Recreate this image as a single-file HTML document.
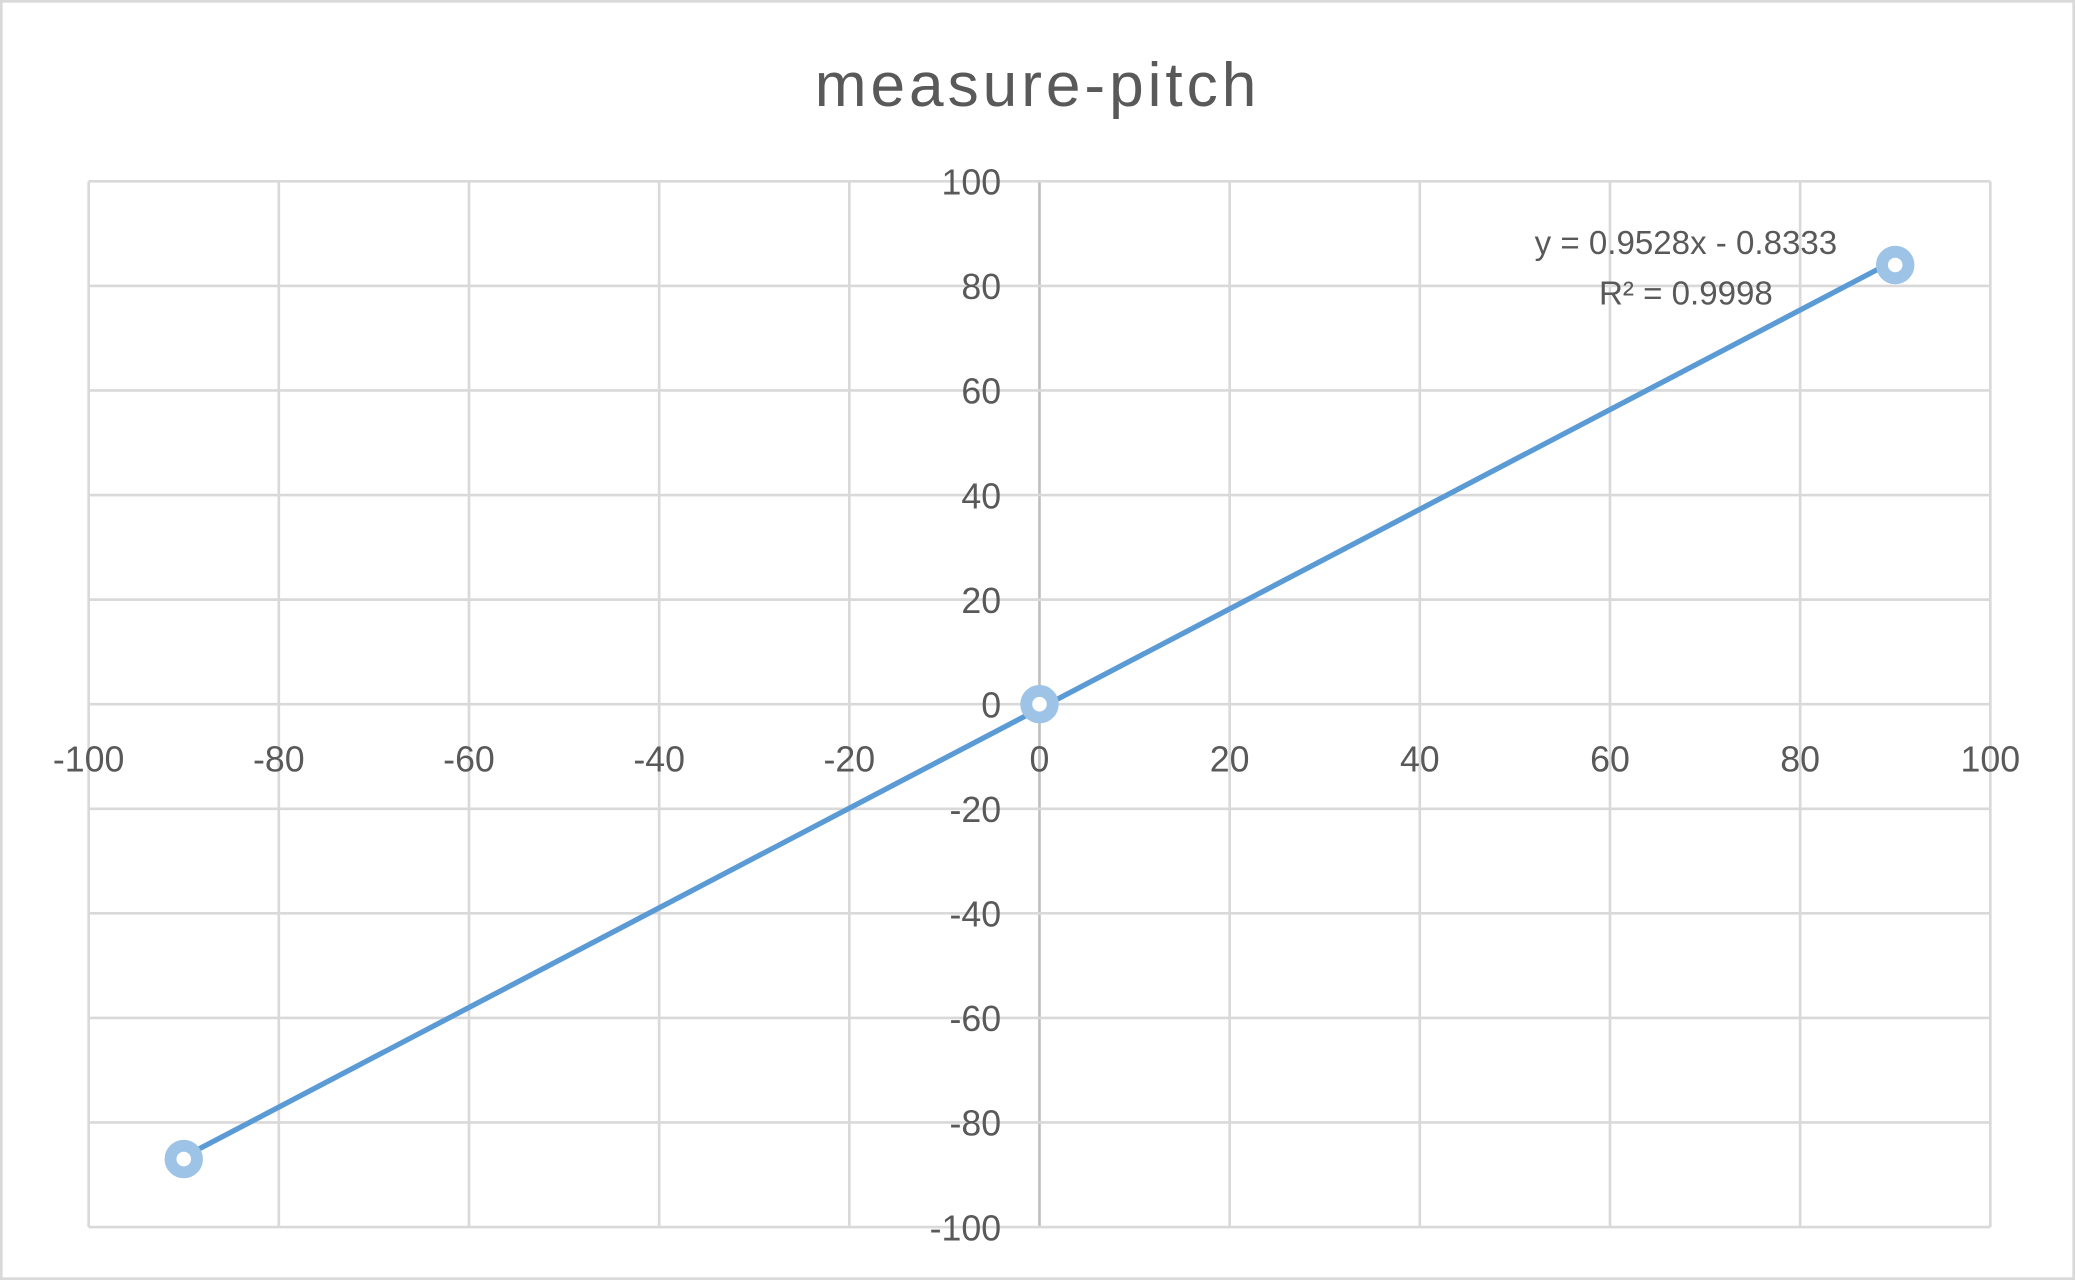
<!DOCTYPE html>
<html><head><meta charset="utf-8"><style>
html,body{margin:0;padding:0;background:#fff;}
svg{display:block;}
text{font-family:"Liberation Sans",sans-serif;fill:#595959;}
</style></head><body>
<svg id="chart" width="2075" height="1280" viewBox="0 0 1568 967" preserveAspectRatio="none" xmlns="http://www.w3.org/2000/svg">
<rect x="1" y="1" width="1566" height="965" fill="#fff" stroke="#d9d9d9" stroke-width="2"/>
<text x="784" y="80" text-anchor="middle" font-size="47" letter-spacing="3">measure-pitch</text>
<g id="grid"></g><g id="labels"></g><g id="series"></g>
<text x="1274" y="192" text-anchor="middle" font-size="25">y = 0.9528x - 0.8333</text>
<text x="1274" y="230" text-anchor="middle" font-size="25">R² = 0.9998</text>
</svg>
<script>
const xTicks=[-100,-80,-60,-40,-20,0,20,40,60,80,100];
const yTicks=[100,80,60,40,20,0,-20,-40,-60,-80,-100];
const xValues=[-90,0,90];
const yValues=[-87,0,84];
const slope=0.9528, intercept=-0.8333;
const X0=67,X1=1504,Y0=927,Y1=137;
const sx=v=>X0+(v+100)/200*(X1-X0);
const sy=v=>Y0-(v+100)/200*(Y0-Y1);
const NS="http://www.w3.org/2000/svg";
function mk(tag,attrs,parent){const e=document.createElementNS(NS,tag);for(const k in attrs)e.setAttribute(k,attrs[k]);document.getElementById(parent).appendChild(e);return e;}
xTicks.forEach(v=>{
 const l=mk('line',{x1:sx(v),x2:sx(v),y1:Y1,y2:Y0,stroke:v===0?'#bfbfbf':'#d9d9d9','stroke-width':2},'grid');
 
 
 const t=mk('text',{x:sx(v),y:sy(0)+51,'text-anchor':'middle','font-size':27},'labels');
 t.textContent=v;
 
 
});
yTicks.forEach(v=>{
 const l=mk('line',{x1:X0,x2:X1,y1:sy(v),y2:sy(v),stroke:'#d9d9d9','stroke-width':2},'grid');
 
 
 const t=mk('text',{x:sx(0)-29,y:sy(v)+10,'text-anchor':'end','font-size':27},'labels');
 t.textContent=v;
 
 
});
const xmin=Math.min(...xValues),xmax=Math.max(...xValues);
const tl=mk('line',{x1:sx(xmin),y1:sy(slope*xmin+intercept),x2:sx(xmax),y2:sy(slope*xmax+intercept),stroke:'#5b9bd5','stroke-width':4},'series');


xValues.forEach((x,i)=>{
 const c=mk('circle',{cx:sx(x),cy:sy(yValues[i]),r:10,fill:'#fff',stroke:'#9dc3e6','stroke-width':9},'series');
 
 
});
</script>
</body></html>
